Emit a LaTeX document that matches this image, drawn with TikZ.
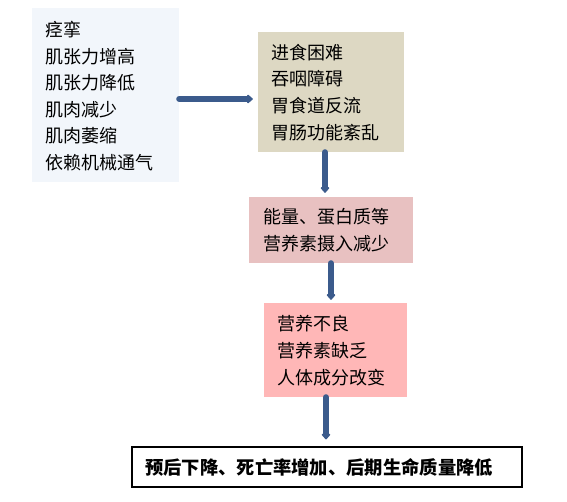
\documentclass[tikz,border=0pt]{standalone}
\usepackage{fontspec}
\setmainfont{Noto Sans CJK SC}
\usetikzlibrary{arrows.meta}
\definecolor{arrowc}{HTML}{3B5B8C}
\definecolor{boxa}{HTML}{F2F6FB}
\definecolor{boxb}{HTML}{DDD8C3}
\definecolor{boxc}{HTML}{E8C1C1}
\definecolor{boxd}{HTML}{FFB7B7}
\tikzset{
  txt/.style={anchor=west,inner sep=0pt,font=\fontsize{18}{20}\selectfont},
  flowarrow/.style={draw=arrowc,line width=6pt,line cap=round,-{Triangle[length=6pt,width=10pt,round]}},
}
\begin{document}
\begin{tikzpicture}[x=1pt,y=-1pt]
\useasboundingbox (0,0) rectangle (567,502);
% boxes
\node (b1) at (105.5,95) [fill=boxa,minimum width=147pt,minimum height=174pt,inner sep=0pt] {};
\node (b2) at (331,92) [fill=boxb,minimum width=146pt,minimum height=120pt,inner sep=0pt] {};
\node (b3) at (331,230) [fill=boxc,minimum width=164pt,minimum height=66pt,inner sep=0pt] {};
\node (b4) at (335.5,350) [fill=boxd,minimum width=143pt,minimum height=94pt,inner sep=0pt] {};
\node (b5) at (327,467) [draw=black,line width=1.2pt,minimum width=390pt,minimum height=40pt,inner sep=0pt] {};
% texts
\node[txt] (t11) at (45,30) {痉挛};
\node[txt] (t12) at (45,56.5) {肌张力增高};
\node[txt] (t13) at (45,83) {肌张力降低};
\node[txt] (t14) at (45,109.5) {肌肉减少};
\node[txt] (t15) at (45,136) {肌肉萎缩};
\node[txt] (t16) at (45,162.5) {依赖机械通气};
\node[txt] (t21) at (271,52.5) {进食困难};
\node[txt] (t22) at (271,79) {吞咽障碍};
\node[txt] (t23) at (271,106) {胃食道反流};
\node[txt] (t24) at (271,132.5) {胃肠功能紊乱};
\node[txt] (t31) at (263,217) {能量、蛋白质等};
\node[txt] (t32) at (263,244) {营养素摄入减少};
\node[txt] (t41) at (277,323.5) {营养不良};
\node[txt] (t42) at (277,351) {营养素缺乏};
\node[txt] (t43) at (277,378) {人体成分改变};
\node[txt,font=\fontsize{18.3}{20}\selectfont\bfseries] (t51) at (145,467) {预后下降、死亡率增加、后期生命质量降低};
% arrows
\draw[flowarrow,shorten >=5pt] ([yshift=-4pt]b1.east) -- ([yshift=-4pt]b1.east -| b2.west);
\draw[flowarrow,shorten >=4pt] ([xshift=-6pt]b2.south) -- ([xshift=-6pt]b2.south |- b3.north);
\draw[flowarrow,shorten >=3pt] (b3.south) -- (b3.south |- b4.north);
\draw[flowarrow,shorten >=7pt] ([xshift=-9.5pt]b4.south) -- ([xshift=-9.5pt]b4.south |- b5.north);
\end{tikzpicture}
\end{document}
